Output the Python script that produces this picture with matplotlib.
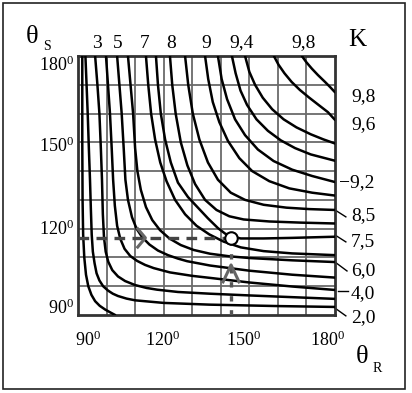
import matplotlib
matplotlib.use("Agg")
from matplotlib import pyplot as plt
from matplotlib.patches import Rectangle

plt.rcParams['font.family'] = ['Liberation Serif', 'DejaVu Serif']
plt.rcParams['mathtext.fontset'] = 'stix'

# curves K = const, (theta_R, theta_S) in degrees
k_values = [1.0, 2.0, 3.0, 4.0, 5.0, 6.0, 7.0, 7.5, 8.0, 8.5, 9.0, 9.2, 9.3, 9.4, 9.6, 9.8]
curve_r = [
    [91.5, 91.5, 91.6, 91.8, 92.2, 92.8, 93.6, 94.7, 96, 97.6, 99.5, 101.5, 103],
    [92.6, 93.0, 93.4, 93.8, 94.2, 94.5, 94.8, 95.2, 95.8, 96.5, 97.5, 98.8, 100.5, 102.2, 104,
     107, 110, 120, 136, 160, 180],
    [96, 96.8, 97.5, 98, 98.4, 98.7, 99.1, 99.7, 100.6, 102, 104, 106.5, 110, 114, 117.7, 125,
     136.2, 150, 165, 180],
    [99.8, 100.5, 101.2, 101.8, 102.3, 102.9, 103.7, 104.8, 106.3, 108.3, 110.7, 113.5, 116.5,
     122.2, 130, 136.2, 150, 165, 180],
    [103.7, 104.5, 105.3, 106, 106.6, 107.5, 108.9, 110.5, 112.5, 115, 118, 121.5, 125, 128.2,
     136.2, 150, 165, 180],
    [107.5, 108.4, 109.3, 110, 110.8, 112, 113.8, 116, 118.7, 122, 126, 130.5, 136.2, 143, 150,
     165, 180],
    [113.8, 114.6, 115.6, 117, 118.8, 121, 124, 127.5, 131.5, 136, 141, 147, 155, 165, 180],
    [117.3, 118, 119, 120.5, 122.5, 125, 128.5, 132, 135.5, 139, 141.5, 143.6, 147, 155, 165, 180],
    [122.2, 123, 124.2, 126, 128.3, 131, 134.5, 138.5, 143, 148, 157, 168, 180],
    [127.5, 128.6, 130.2, 132.5, 135.5, 139, 143.5, 148.5, 155, 163, 171, 180],
    [134.5, 135.6, 137.2, 139.5, 142.5, 146.5, 151, 157, 164, 172, 180],
    [139, 140.3, 142.2, 145, 148.5, 153, 158.5, 165, 172, 180],
    [143.9, 145.2, 146.9, 149.2, 152.5, 156.5, 161, 166, 171.5, 180],
    [148.5, 150, 152, 154.7, 158, 162, 166.5, 171.5, 176, 180],
    [158.6, 160.2, 162.3, 164.8, 167.7, 171, 174.5, 177.5, 180],
    [168.4, 170, 171.9, 174, 176.5, 178.3, 180],
]
curve_s = [
    [180, 150, 130, 118, 110, 104, 100, 97, 94.8, 93.2, 91.9, 90.8, 90],
    [180, 170, 160, 148, 137, 127, 118, 112, 108, 104.5, 102, 100, 98.5, 97.4, 96.6,
     95.7, 95.1, 94.2, 93.6, 93.1, 92.8],
    [180, 170, 160, 148, 137, 125, 117, 112, 108.5, 105.6, 103.4, 101.8, 100.4, 99.4, 98.8, 98,
     97.4, 96.8, 96.2, 95.6],
    [180, 170, 160, 148, 137, 128, 121, 116.5, 113, 110.5, 108.8, 107.4, 106.3,
     104.8, 103.6, 102.9, 101.3, 99.9, 98.7],
    [180, 170, 160, 148, 137, 130, 124, 120, 117, 114.5, 112.4, 110.8, 109.6, 108.7,
     107.2, 105.4, 104, 103],
    [180, 170, 160, 148, 140, 133.5, 127.5, 123, 119.5, 116.6, 114.3, 112.6, 111.3, 110.4, 109.8,
     109, 108.4],
    [180, 170, 160, 151, 143, 136.5, 130, 125, 121, 118, 115.5, 113.5, 112.2, 111.4, 110.8],
    [180, 170, 160, 151, 143, 136, 131, 127.3, 123.6, 120.2, 118.3, 117.3, 116.6, 116.6, 116.8,
     117.2],
    [180, 170, 160, 150, 142, 135.5, 130, 126.5, 124.3, 123.2, 122.5, 122.1, 121.8],
    [180, 170, 160, 151, 143, 137, 132.5, 130, 128.3, 127.3, 126.8, 126.5],
    [180, 172, 164, 157, 150.5, 144.5, 140, 136.5, 134, 132.5, 131.5],
    [180, 172, 165, 158, 152.5, 147.5, 143.5, 140.5, 138.3, 136.2],
    [180, 174, 168, 163, 158, 154, 150.7, 148, 145.8, 143.6],
    [180, 174.5, 170, 165.5, 161.5, 158, 155.2, 152.8, 151, 149.6],
    [180, 177, 174, 171, 168.2, 165.5, 162.8, 160.5, 157.8],
    [180, 177.8, 175.6, 173.4, 171, 169.2, 167.4],
]

# labels
top_labels = ["3", "5", "7", "8", "9", "9,4", "9,8"]
right_labels = ["9,8", "9,6", "\u22129,2", "8,5", "7,5", "6,0", "4,0", "2,0"]
tick_values = [90, 120, 150, 180]

# working point
point_r = 143.6
point_s = 116.8

W, H = 412, 393
fig = plt.figure(figsize=(W / 100, H / 100), dpi=100)
ax = fig.add_axes([78 / W, 1 - 315 / H, 257 / W, 259 / H])


def fx(x):
    return x / W


def fy(y):
    return 1 - y / H


ax.set_xlim(90, 180)
ax.set_ylim(90, 180)
for g in range(100, 180, 10):
    ax.axvline(g, color='#6a6a6a', lw=1.3, zorder=1)
    ax.axhline(g, color='#6a6a6a', lw=1.3, zorder=1)

for r, s in zip(curve_r, curve_s):
    ax.plot(r, s, color='black', lw=1.8, zorder=3, solid_joinstyle='round',
            solid_capstyle='round')

# dashed guide lines and arrows
ax.plot([90, point_r - 2.2], [point_s, point_s], color='#444444', lw=2.4,
        dashes=(3.2, 2.2), zorder=4)
ax.plot([point_r, point_r], [90, point_s - 2.2], color='#555555', lw=2.4,
        dashes=(1.6, 2.6), zorder=4)
ax.plot([110.9, 113.6, 110.9], [120, point_s, 113.6], color='#666666', lw=2.2, zorder=5)
ax.plot([140.8, point_r, 146.4], [101.5, 107.4, 101.5], color='#666666', lw=2.2, zorder=5)
ax.plot([point_r], [point_s], 'o', ms=9, mfc='white', mec='black', mew=1.5, zorder=6)

for side in ax.spines.values():
    side.set_linewidth(2.0)
    side.set_color('#333333')
ax.set_xticks([])
ax.set_yticks([])

# right leader lines
leaders = [([180, 183.8], [126.5, 124.1]), ([180, 183.8], [117.8, 115.4]),
           ([180, 184.2], [108.4, 105.3]), ([181, 184.6], [98.3, 98.3]),
           ([180, 183.8], [92.4, 89.7])]
for lr, ls in leaders:
    ax.plot(lr, ls, color='black', lw=1.0, clip_on=False)

fs = 14
# tick labels
for v, x in zip(tick_values, [88, 163, 244, 328]):
    fig.text(fx(x), fy(340), str(v) + r'$^{\mathregular{0}}$', fontsize=fs - 1,
             ha='center', va='center')
for v, y in zip(tick_values, [308, 229, 146, 65]):
    fig.text(fx(74), fy(y), str(v) + r'$^{\mathregular{0}}$', fontsize=fs - 1,
             ha='right', va='center')

for t, x in zip(top_labels, [97, 118, 145, 171, 206, 242, 304]):
    fig.text(fx(x), fy(43), t, fontsize=fs, ha='center', va='center')
for t, y in zip(right_labels, [97, 125, 183, 216, 242, 271, 294, 318]):
    x0 = 339 if t.startswith('\u2212') else 351
    fig.text(fx(x0), fy(y), t, fontsize=fs, ha='left', va='center')

fig.text(fx(357), fy(40), "K", fontsize=18, ha='center', va='center')
fig.text(fx(32), fy(37), "\u03b8", fontsize=19, ha='center', va='center')
fig.text(fx(47), fy(46), "S", fontsize=10, ha='center', va='center')
fig.text(fx(362), fy(357), "\u03b8", fontsize=19, ha='center', va='center')
fig.text(fx(377), fy(369), "R", fontsize=10, ha='center', va='center')

fig.add_artist(Rectangle((fx(3), fy(389)), fx(402), 386 / H, transform=fig.transFigure,
                         fill=False, edgecolor='#222222', lw=1.2))

fig.savefig("out.png", dpi=100)
